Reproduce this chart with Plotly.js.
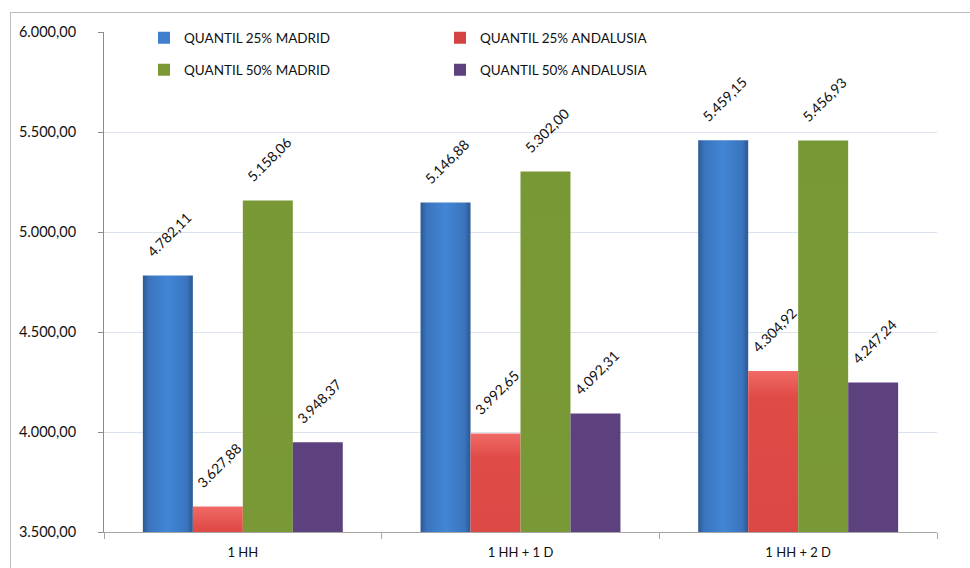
<!DOCTYPE html>
<html>
<head>
<meta charset="utf-8">
<script src="https://cdn.plot.ly/plotly-3.0.1.min.js"></script>
<style>
  html, body { margin: 0; padding: 0; background: #fff; }
  #chart { position: absolute; left: 0; top: 0; width: 970px; height: 568px; }
  #frame { position: absolute; left: 10px; top: 12px; width: 1000px; height: 600px;
           border-top: 1px solid #bdbdbd; border-left: 1px solid #bdbdbd; pointer-events: none; }
</style>
</head>
<body>
<div id="chart"></div>
<div id="frame"></div>
<script>
// Household types on the category axis
const categories = ['1 HH', '1 HH + 1 D', '1 HH + 2 D'];

// Income quantiles per household type
const q25Madrid    = [4782.11, 5146.88, 5459.15];
const q25Andalusia = [3627.88, 3992.65, 4304.92];
const q50Madrid    = [5158.06, 5302.00, 5456.93];
const q50Andalusia = [3948.37, 4092.31, 4247.24];

const seriesNames = ['QUANTIL 25% MADRID', 'QUANTIL 25% ANDALUSIA',
                     'QUANTIL 50% MADRID', 'QUANTIL 50% ANDALUSIA'];

const FONT = 'Lato, "Open Sans", sans-serif';
const NBSP = '\u00a0';

function barTrace(name, values, color, legendId) {
  return {
    type: 'bar',
    name: name,
    x: categories,
    y: values,
    legend: legendId,
    marker: { color: color, line: { width: 0 } },
    // padding spaces lift the slanted label a little further off the bar top
    texttemplate: NBSP.repeat(5) + '%{y:,.2f}' + NBSP.repeat(4),
    textposition: 'outside',
    textangle: -45,
    constraintext: 'none',
    cliponaxis: false,
    textfont: { family: FONT, size: 14, color: '#111' }
  };
}

const traces = [
  barTrace(seriesNames[0], q25Madrid,    '#3f7fcd', 'legend'),
  barTrace(seriesNames[1], q25Andalusia, '#d24341', 'legend'),
  barTrace(seriesNames[2], q50Madrid,    '#7b9a36', 'legend2'),
  barTrace(seriesNames[3], q50Andalusia, '#5d417e', 'legend2')
];

const legendCommon = {
  orientation: 'h',
  xref: 'container', yref: 'container',
  xanchor: 'left', yanchor: 'middle',
  entrywidth: 251, entrywidthmode: 'pixels',
  itemwidth: 30,
  font: { family: FONT, size: 13.5, color: '#111' },
  bgcolor: 'rgba(0,0,0,0)',
  traceorder: 'normal'
};

const layout = {
  width: 970, height: 568,
  margin: { l: 104, r: 33, t: 32, b: 36, autoexpand: false },
  paper_bgcolor: '#fff',
  plot_bgcolor: '#fff',
  separators: ',.',
  font: { family: FONT, size: 13, color: '#111' },
  barmode: 'group',
  bargap: 0.28,
  bargroupgap: 0,
  showlegend: true,
  legend:  Object.assign({}, legendCommon, { x: 144 / 970, y: 1 - 38 / 568 }),
  legend2: Object.assign({}, legendCommon, { x: 144 / 970, y: 1 - 70 / 568 }),
  xaxis: {
    type: 'category',
    showline: true, linecolor: '#a6a6a6', linewidth: 1,
    ticks: 'outside', tickson: 'boundaries', ticklen: 6, tickcolor: '#a6a6a6',
    showgrid: false,
    tickfont: { family: FONT, size: 13, color: '#111' },
    ticklabelstandoff: 8
  },
  yaxis: {
    range: [3500, 6000],
    dtick: 500,
    tickformat: ',.2f',
    showline: true, linecolor: '#8c8c8c', linewidth: 1,
    ticks: 'outside', ticklen: 5, tickcolor: '#8c8c8c',
    gridcolor: '#dbe3ef', gridwidth: 1,
    zeroline: false,
    tickfont: { family: FONT, size: 14.5, color: '#111' },
    ticklabelstandoff: 19
  }
};

// Shaded fills for each series, applied on top of the plotted bars
const gradients = [
  { id: 'gBlue', x2: 1, y2: 0, stops: [[0, '#2c5991'], [0.12, '#3a74bd'], [0.5, '#4286d6'], [0.88, '#3a74bd'], [1, '#2b5890']] },
  { id: 'gRed', x2: 0, y2: 1, stops: [[0, '#f06a66'], [0.03, '#e04b47'], [0.5, '#cf4140'], [1, '#a93232']] },
  { id: 'gGreen', x2: 0, y2: 1, stops: [[0, '#789735'], [0.64, '#7b9b37'], [0.82, '#9ec649'], [1, '#a2c94d']] },
  { id: 'gPurple', x2: 0, y2: 1, stops: [[0, '#5d417e'], [0.88, '#5e427f'], [1, '#7b57a8']] }
];

function applyShading(gd) {
  const svgNS = 'http://www.w3.org/2000/svg';
  const svg = gd.querySelector('svg.main-svg');
  let defs = svg.querySelector('defs');
  if (!defs) { defs = document.createElementNS(svgNS, 'defs'); svg.insertBefore(defs, svg.firstChild); }
  gradients.forEach(g => {
    const lg = document.createElementNS(svgNS, 'linearGradient');
    lg.setAttribute('id', g.id);
    lg.setAttribute('x1', 0); lg.setAttribute('y1', 0);
    lg.setAttribute('x2', g.x2); lg.setAttribute('y2', g.y2);
    g.stops.forEach(s => {
      const st = document.createElementNS(svgNS, 'stop');
      st.setAttribute('offset', s[0]);
      st.setAttribute('stop-color', s[1]);
      lg.appendChild(st);
    });
    defs.appendChild(lg);
  });
  const groups = gd.querySelectorAll('.barlayer .trace.bars');
  groups.forEach((grp, i) => {
    grp.querySelectorAll('.point path').forEach(p => {
      p.style.fill = 'url(#' + gradients[i].id + ')';
    });
  });
}

Plotly.newPlot('chart', traces, layout, { staticPlot: true }).then(applyShading);
</script>
</body>
</html>
